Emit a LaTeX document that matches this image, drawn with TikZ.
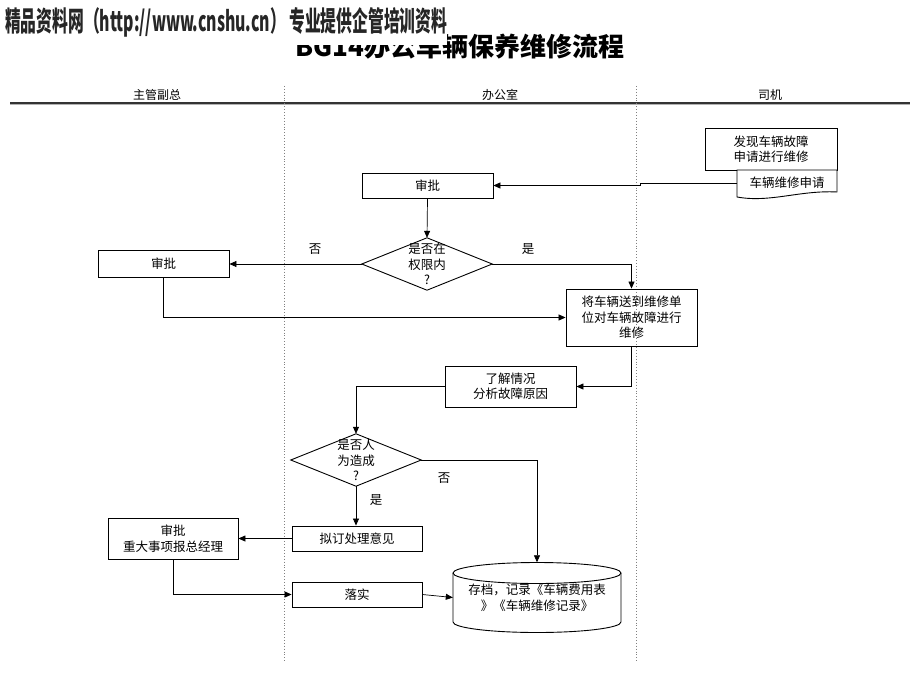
\documentclass[tikz,border=0pt]{standalone}
\usepackage{fontspec}
\setmainfont{Liberation Serif}
\newfontfamily\cjk{Noto Sans CJK SC}
\usetikzlibrary{arrows.meta}
\begin{document}
\begin{tikzpicture}[x=1pt,y=-1pt,
  every node/.style={font=\cjk\fontsize{12.5}{15.5}\selectfont, inner sep=0pt, align=center},
  box/.style={draw, line width=0.9pt, rectangle},
  dia/.style={rectangle, minimum width=130pt, minimum height=52pt},
  arr/.style={-{Triangle[length=7pt,width=6pt]}, line width=0.7pt},
  lane/.style={gray, dotted, line width=0.9pt},
  lbl/.style={font=\cjk\fontsize{12.5}{15}\selectfont},
  head/.style={font=\cjk\fontsize{12}{14}\selectfont}]
\useasboundingbox (0,0) rectangle (920,690);
\fill[white] (0,0) rectangle (920,690);

% title, partly covered by the watermark band
\node[anchor=base, font=\cjk\bfseries\fontsize{26}{30}\selectfont] (title) at (460,57) {BG14办公车辆保养维修流程};
\fill[white] (0,0) rectangle (447,45);
\node[anchor=base west, text=black!85] (wm) at (5,32) {\resizebox{442pt}{24pt}{\cjk\bfseries 精品资料网（http://www.cnshu.cn） 专业提供企管培训资料}};

% lanes
\node[head] (h1) at (157,95) {主管副总};
\node[head] (h2) at (500,95) {办公室};
\node[head] (h3) at (770,95) {司机};
\coordinate (hl) at (10,103);
\coordinate (hr) at (910,103);
\draw[line width=1.1pt, black!80] (hl) -- (hr);
\draw[line width=0.6pt, gray!60] ([yshift=-1.5pt]hl) -- ([yshift=-1.5pt]hr);
\coordinate (l1t) at (284,86); \coordinate (l1b) at (284,662);
\coordinate (l2t) at (636,86); \coordinate (l2b) at (636,662);
\draw[lane] (l1t) -- (l1b);
\draw[lane] (l2t) -- (l2b);

% driver
\node[box, minimum width=132pt, minimum height=42pt] (fx) at (771,149) {发现车辆故障\\申请进行维修};
\draw[line width=0.9pt, fill=white] (737,170) -- (737,197) .. controls (770,203) and (800,190) .. (837,192) -- (837,170) -- cycle;
\node (docT) at (787,183) {车辆维修申请};
\coordinate (docL) at (737,183);

% office / vp
\node[box, minimum width=131pt, minimum height=25pt] (sp1) at (427.5,185.5) {审批};
\node[dia] (d1) at (427,264) {是否在\\权限内\\?};
\draw[line width=0.9pt] (d1.north) -- (d1.east) -- (d1.south) -- (d1.west) -- cycle;
\node[box, minimum width=131pt, minimum height=27pt] (sp2) at (163.5,263.5) {审批};
\node[box, minimum width=131pt, minimum height=57pt] (rep) at (631.5,317.5) {将车辆送到维修单\\位对车辆故障进行\\维修};
\node[box, minimum width=131pt, minimum height=41pt] (ana) at (510.5,386.5) {了解情况\\分析故障原因};
\node[dia] (d2) at (356,460) {是否人\\为造成\\?};
\draw[line width=0.9pt] (d2.north) -- (d2.east) -- (d2.south) -- (d2.west) -- cycle;
\node[box, minimum width=130pt, minimum height=25pt] (dr) at (357,538.5) {拟订处理意见};
\node[box, minimum width=130pt, minimum height=41pt] (sp3) at (173,538.5) {审批\\重大事项报总经理};
\node[box, minimum width=130pt, minimum height=25pt] (imp) at (357,594.5) {落实};

% archive cylinder
\draw[line width=0.9pt, fill=white] (453,573) -- (453,622) arc[start angle=180, end angle=360, x radius=84pt, y radius=10.5pt] -- (621,573);
\draw[line width=0.9pt] (537,573) ellipse [x radius=84pt, y radius=10.5pt];
\node[minimum width=168pt, minimum height=70pt] (arc) at (537,597.5) {存档，记录《车辆费用表\\》《车辆维修记录》};

% connectors
\draw[arr] (docL) -- ++(-97,0) |- (sp1.east);
\draw[arr] (sp1.south) -- (d1.north);
\draw[arr] (d1.west) -- (d1.west -| sp2.east);
\draw[arr] (d1.east) -| (rep.north);
\draw[arr] (sp2.south) |- (rep.west);
\draw[arr] (rep.south) |- (ana.east);
\draw[arr] (ana.west) -| (d2.north);
\draw[arr] (d2.east) -| (arc.north);
\draw[arr] (d2.south) -- (d2.south |- dr.north);
\draw[arr] (dr.west) -- (sp3.east);
\draw[arr] (sp3.south) |- (imp.west);
\draw[arr] (imp.east) -- (arc.west);

% labels
\node[lbl] (n1) at (315,249) {否};
\node[lbl] (y1) at (528,249) {是};
\node[lbl] (n2) at (444,478) {否};
\node[lbl] (y2) at (376,500) {是};
\end{tikzpicture}
\end{document}
